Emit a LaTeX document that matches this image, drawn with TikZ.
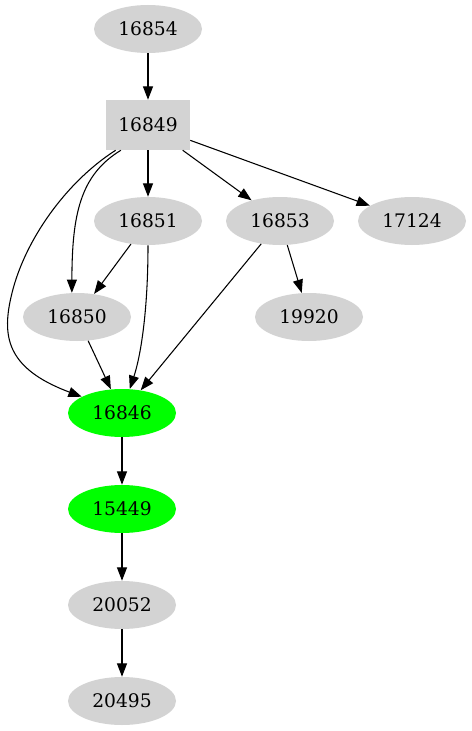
\documentclass[tikz,border=0pt]{standalone}
\usepackage{fontspec}
\setmainfont{DejaVu Serif}
\usetikzlibrary{shapes.geometric}
\usetikzlibrary{arrows.meta}
\definecolor{nodegray}{HTML}{D3D3D3}
\definecolor{hitgreen}{HTML}{00FF00}
\newcommand{\labelfont}{\fontsize{14}{16}\selectfont}
\tikzset{blob/.style={ellipse, fill=nodegray, inner sep=0pt, minimum width=81pt, minimum height=36pt, font=\labelfont}}
\tikzset{hitblob/.style={blob, fill=hitgreen}}
\tikzset{boxpt/.style={rectangle, fill=nodegray, inner sep=0pt, minimum width=63pt, minimum height=37.5pt, font=\labelfont}}
\tikzset{dep/.style={-{Triangle[length=10pt,width=7.5pt]}, line width=0.8pt}}

\begin{document}
\begin{tikzpicture}[x=0.75pt,y=-0.75pt]
\useasboundingbox (0,0) rectangle (471,731);

\node[blob] (n16854) at (148,29) {16854};
\node[boxpt] (n16849) at (148,125) {16849};
\node[blob] (n16851) at (148,221) {16851};
\node[blob] (n16853) at (280,221) {16853};
\node[blob] (n17124) at (412,221) {17124};
\node[blob] (n16850) at (77,317) {16850};
\node[blob] (n19920) at (309,317) {19920};
\node[hitblob] (n16846) at (122,413) {16846};
\node[hitblob] (n15449) at (122,509) {15449};
\node[blob] (n20052) at (122,605) {20052};
\node[blob] (n20495) at (122,701) {20495};

\draw[dep] (n16854) -- (n16849);
\draw[dep] (n16849) -- (n16851);
\draw[dep] (n16849) -- (n16853);
\draw[dep] (n16849) -- (n17124);
\draw[dep] (n16849.-137) .. controls (80,175) and (72,215) .. (n16850.102);
\draw[dep] (n16849.-142) .. controls (66,182) and (25,240) .. (12,293) .. controls (1.6,335) and (5,368) .. (n16846.158);

\draw[dep] (n16851) -- (n16850);
\draw[dep] (n16851.south) .. controls (148,310) and (141,355) .. (n16846.72);
\draw[dep] (n16850) -- (n16846);
\draw[dep] (n16853) -- (n16846);
\draw[dep] (n16853) -- (n19920);

\draw[dep] (n16846) -- (n15449);
\draw[dep] (n15449) -- (n20052);
\draw[dep] (n20052) -- (n20495);
\end{tikzpicture}
\end{document}
